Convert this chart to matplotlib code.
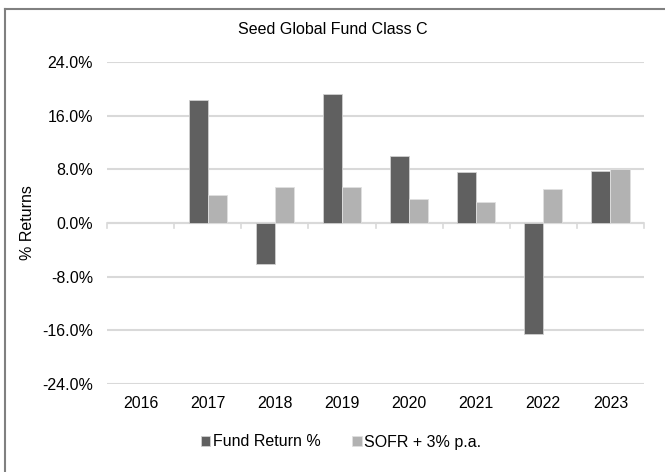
import matplotlib
matplotlib.use("Agg")
import matplotlib.pyplot as plt
import numpy as np
from matplotlib.ticker import FuncFormatter

plt.rcParams['font.family'] = ['Liberation Sans', 'DejaVu Sans']

years = ["2016", "2017", "2018", "2019", "2020", "2021", "2022", "2023"]
fund_return = [np.nan, 18.4, -6.1, 19.2, 10.0, 7.6, -16.6, 7.8]
sofr_plus3 = [np.nan, 4.2, 5.3, 5.3, 3.6, 3.15, 5.1, 8.0]
yticks = [-24, -16, -8, 0, 8, 16, 24]

fund_color = "#606060"
sofr_color = "#b2b2b2"
fs = 11.5

fig = plt.figure(figsize=(6.65, 4.72), dpi=100)
ax = fig.add_axes([107/665, 1 - 384/472, (644-107)/665, (384-62)/472])

x = np.arange(len(years))
w = 0.285
ax.bar(x - w/2, fund_return, width=w, color=fund_color, edgecolor="#d0d0d0", linewidth=0.6,
       label="Fund Return %", zorder=3)
ax.bar(x + w/2, sofr_plus3, width=w, color=sofr_color, edgecolor="#e0e0e0", linewidth=0.6,
       label="SOFR + 3% p.a.", zorder=3)

ax.set_xlim(-0.5, len(years) - 0.5)
ax.set_ylim(-24, 24)
ax.set_yticks(yticks)
ax.yaxis.set_major_formatter(FuncFormatter(lambda v, p: f"{v:.1f}%"))
ax.grid(axis='y', color="#d9d9d9", linewidth=1.5, zorder=0)
ax.set_axisbelow(True)
for s in ax.spines.values():
    s.set_visible(False)
ax.tick_params(axis='y', length=0, pad=10, labelsize=fs, colors="#000000")
ax.set_xticks(x)
ax.set_xticklabels(years)
ax.tick_params(axis='x', length=0, pad=9, labelsize=fs)

# zero line with category-boundary tick marks
ax.axhline(0, color="#d9d9d9", linewidth=1.5, zorder=2)
for b in np.arange(-0.5, len(years), 1.0):
    ax.plot([b, b], [0, -0.7], color="#d9d9d9", linewidth=1.2, zorder=2, clip_on=False)

ax.set_ylabel("% Returns", fontsize=fs)
ax.yaxis.set_label_coords((35 - 107) / (644 - 107), 0.5)

fig.text(0.5, 1 - 30/472, "Seed Global Fund Class C", fontsize=fs, ha="center", va="center")

leg = fig.legend(loc="center", bbox_to_anchor=(341/665, 1 - 442/472), ncol=2, frameon=False,
                 fontsize=fs, handlelength=0.6, handleheight=0.6, handletextpad=0.15,
                 columnspacing=2.0)

# partial outer border (left and top)
fig.add_artist(plt.Line2D([5.5/665, 5.5/665], [0, 1 - 8.5/472], transform=fig.transFigure,
                          color="#808080", linewidth=1.5))
fig.add_artist(plt.Line2D([5.5/665, 1], [1 - 8.5/472, 1 - 8.5/472], transform=fig.transFigure,
                          color="#808080", linewidth=1.5))

fig.savefig("out.png", dpi=100)
